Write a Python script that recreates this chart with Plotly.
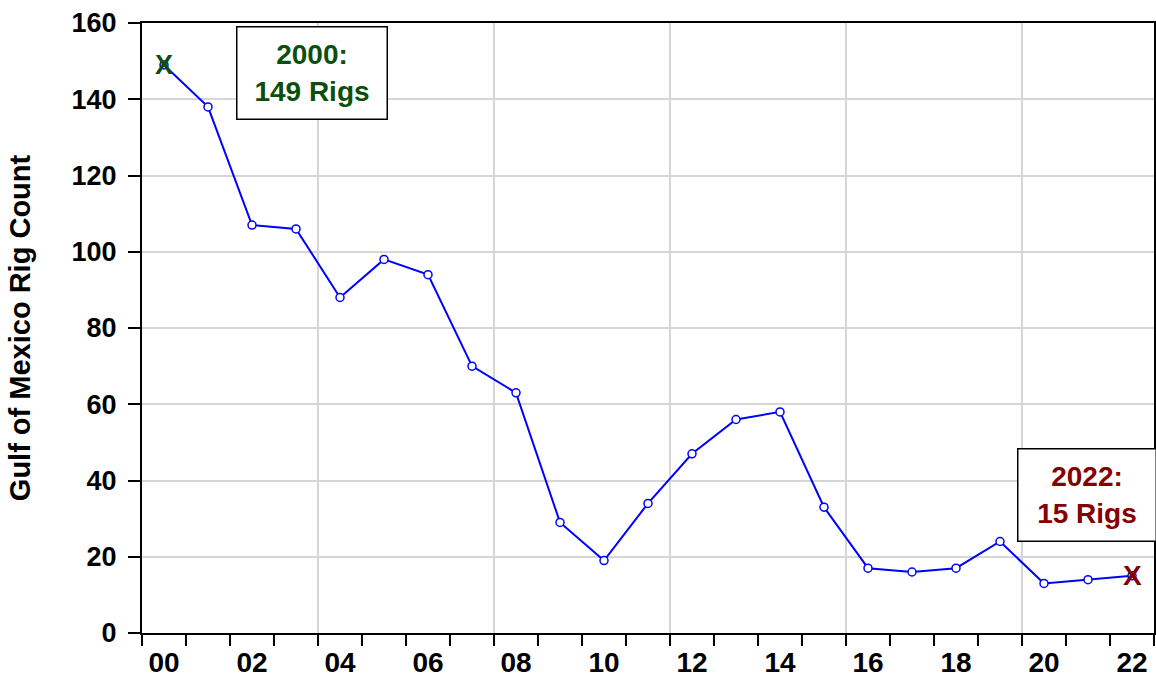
import plotly.graph_objects as go

years = list(range(2000, 2023))
rigs = [149, 138, 107, 106, 88, 98, 94, 70, 63, 29, 19, 34, 47, 56, 58, 33, 17, 16, 17, 24, 13, 14, 15]
label_years = list(range(2000, 2023, 2))
tick_labels = [f"{y % 100:02d}" for y in label_years]
grid_years = [2004, 2008, 2012, 2016, 2020]

FONT = "Liberation Sans, Arial, sans-serif"
GREEN = "#0b4f0b"
RED = "#850000"

xs = [y + 0.5 for y in years]

fig = go.Figure()
fig.add_trace(go.Scatter(
    x=xs, y=rigs, mode="lines+markers",
    line=dict(color="#0000ff", width=2),
    marker=dict(symbol="circle", size=8, color="white", line=dict(color="#0000ff", width=1.5)),
    showlegend=False, hoverinfo="skip", xaxis="x", yaxis="y",
))
fig.add_trace(go.Scatter(x=[xs[0]], y=[rigs[0]], mode="markers", marker=dict(opacity=0),
                         showlegend=False, hoverinfo="skip", xaxis="x2", yaxis="y"))

fig.update_layout(
    width=1156, height=678,
    margin=dict(l=142, r=2, t=23, b=45, autoexpand=False),
    paper_bgcolor="white", plot_bgcolor="white",
    font=dict(family=FONT, color="black"),
    xaxis=dict(
        range=[2000, 2023], tickvals=grid_years, showticklabels=False, ticks="",
        showgrid=True, gridcolor="#d6d6d6", gridwidth=1.5,
        showline=True, linecolor="black", linewidth=2, mirror=True, zeroline=False,
        minor=dict(tickvals=list(range(2000, 2024)), ticks="outside", ticklen=11,
                   tickcolor="black", tickwidth=1.5, showgrid=False),
    ),
    xaxis2=dict(
        range=[2000, 2023], overlaying="x", side="bottom", matches="x",
        tickvals=[y + 0.5 for y in label_years], ticktext=tick_labels, ticks="",
        showgrid=False, showline=False, zeroline=False,
        tickfont=dict(family=FONT, size=28, color="black", weight="bold"),
        ticklabelstandoff=10,
    ),
    yaxis=dict(
        range=[0, 160], dtick=20, ticks="outside", ticklen=12, tickcolor="black", tickwidth=1.5,
        showgrid=True, gridcolor="#d6d6d6", gridwidth=1.5,
        showline=True, linecolor="black", linewidth=2, mirror=True, zeroline=False,
        tickfont=dict(family=FONT, size=27, color="black", weight="bold"),
        ticklabelstandoff=6,
        title=dict(text="Gulf of Mexico Rig Count", standoff=32,
                   font=dict(family=FONT, size=29, color="black", weight="bold")),
    ),
)

fig.add_annotation(x=xs[0], y=rigs[0], xref="x", yref="y", text="<b>X</b>", showarrow=False,
                   font=dict(family=FONT, size=27, color=GREEN))
fig.add_annotation(x=xs[-1], y=rigs[-1], xref="x", yref="y", text="<b>X</b>", showarrow=False,
                   font=dict(family=FONT, size=28, color=RED))

fig.add_annotation(x=2003.86, y=146.9, xref="x", yref="y",
                   text=f"<b>{years[0]}:<br>{rigs[0]} Rigs</b>", showarrow=False,
                   font=dict(family=FONT, size=28, color=GREEN),
                   bordercolor="black", borderwidth=1.5, borderpad=0, bgcolor="white",
                   width=149, height=91)
fig.add_annotation(x=2021.47, y=36.2, xref="x", yref="y",
                   text=f"<b>{years[-1]}:<br>{rigs[-1]} Rigs</b>", showarrow=False,
                   font=dict(family=FONT, size=28, color=RED),
                   bordercolor="black", borderwidth=1.5, borderpad=0, bgcolor="white",
                   width=137, height=91)

fig.write_html("out.html", config={"displayModeBar": False},
               post_script="document.body.style.margin='0px';")
